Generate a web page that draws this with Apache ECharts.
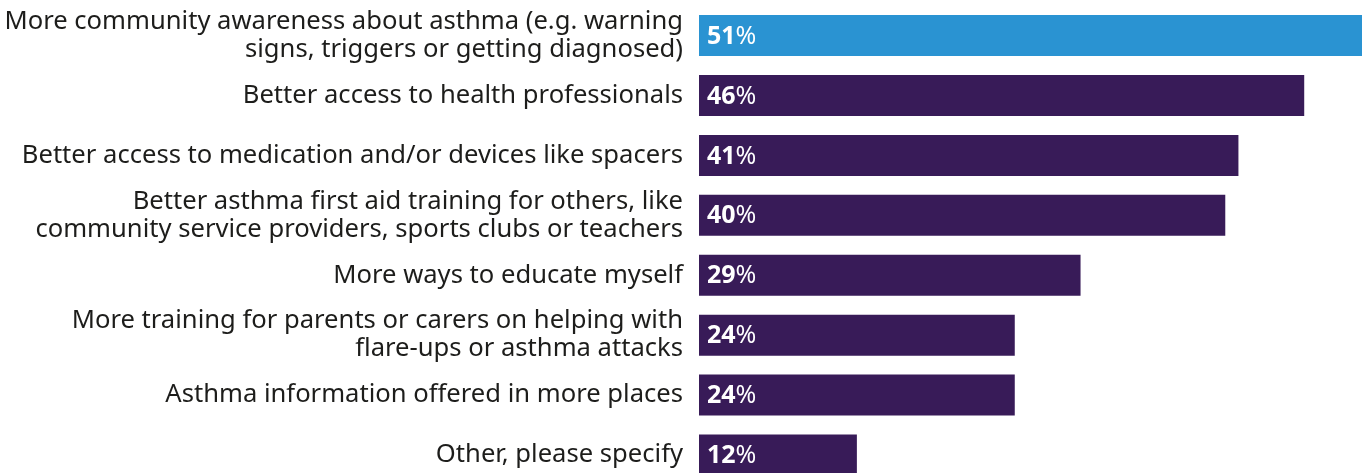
<!DOCTYPE html>
<html>
<head>
<meta charset="utf-8">
<script src="https://cdn.jsdelivr.net/npm/echarts@6/dist/echarts.min.js"></script>
<style>
  html, body { margin: 0; padding: 0; background: #ffffff; overflow: hidden; }
  /* the plot runs slightly past the window edge, so the longest bar and the last row are cut */
  #chart { width: 1370px; height: 485px; }
</style>
</head>
<body>
<div id="chart"></div>
<script>
// Survey responses, listed top to bottom
const categories = [
  'More community awareness about asthma (e.g. warning\nsigns, triggers or getting diagnosed)',
  'Better access to health professionals',
  'Better access to medication and/or devices like spacers',
  'Better asthma first aid training for others, like\ncommunity service providers, sports clubs or teachers',
  'More ways to educate myself',
  'More training for parents or carers on helping with\nflare-ups or asthma attacks',
  'Asthma information offered in more places',
  'Other, please specify'
];
const percentages = [51, 46, 41, 40, 29, 24, 24, 12];
const highlightIndex = 0;

const BLUE = '#2a93d2';
const PURPLE = '#381b58';

const chart = echarts.init(document.getElementById('chart'), null, { renderer: 'canvas' });

chart.setOption({
  animation: false,
  grid: { left: 699, right: 0, top: 5.6, bottom: 0, containLabel: false },
  xAxis: {
    type: 'value',
    min: 0,
    max: 51,
    show: false
  },
  yAxis: {
    type: 'category',
    inverse: true,
    data: categories,
    axisLine: { show: false },
    axisTick: { show: false },
    splitLine: { show: false },
    axisLabel: {
      margin: 16,
      color: '#1d1d1b',
      fontFamily: 'Noto Sans',
      fontSize: 25.6,
      lineHeight: 28,
      align: 'right'
    }
  },
  series: [{
    type: 'bar',
    barWidth: 41,
    data: percentages.map((v, i) => ({
      value: v,
      itemStyle: { color: i === highlightIndex ? BLUE : PURPLE }
    })),
    label: {
      show: true,
      position: 'insideLeft',
      offset: [0, 1],
      distance: 8,
      formatter: p => '{n|' + p.value + '}{p|%}',
      rich: {
        n: { color: '#ffffff', fontFamily: 'Noto Sans', fontWeight: 'bold', fontSize: 25 },
        p: { color: '#ffffff', fontFamily: 'Noto Sans', fontWeight: 'normal', fontSize: 25 }
      }
    }
  }]
});
</script>
</body>
</html>
